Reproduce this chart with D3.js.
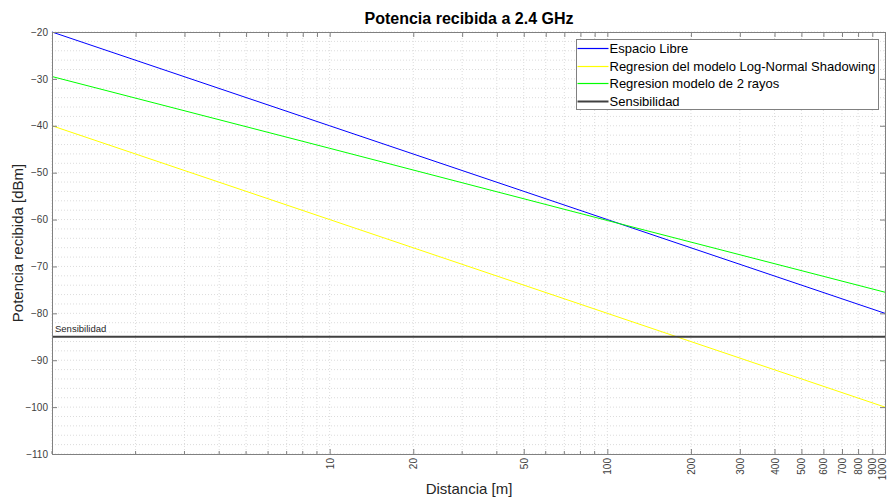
<!DOCTYPE html>
<html>
<head>
<meta charset="utf-8">
<script src="https://cdn.jsdelivr.net/npm/d3@7"></script>
<style>
  body { margin: 0; background: #fff; }
  text { font-family: "Liberation Sans", Arial, sans-serif; }
</style>
</head>
<body>
<div id="chart"></div>
<script>
// distances in metres and received power in dBm
let distancias = [1, 10, 100, 1000]
let espacioLibre = [-20, -40, -60, -80]
let logNormal = [-40, -60, -80, -100]
let dosRayos = [-29.5, -44.8, -60.2, -75.5]
let sensibilidad = [-85, -85, -85, -85]

let seriesNames = ["Espacio Libre", "Regresion del modelo Log-Normal Shadowing", "Regresion modelo de 2 rayos", "Sensibilidad"]
let xTickLabels = [10, 20, 50, 100, 200, 300, 400, 500, 600, 700, 800, 900, 1000]
let yTickLabels = [-110, -100, -90, -80, -70, -60, -50, -40, -30, -20]

var margin = {top: 32, right: 3, bottom: 46, left: 52},
    width = 888 - margin.left - margin.right,
    height = 500 - margin.top - margin.bottom;

var svg = d3.select("#chart")
  .append("svg")
    .attr("width", 888)
    .attr("height", 500)

var g = svg.append("g")
    .attr("transform", `translate(${margin.left}, ${margin.top})`);

var x = d3.scaleLog().domain([1, 1000]).range([0, width])
var y = d3.scaleLinear().domain([-110, -20]).range([height, 0])

// minor grid values
let xMinor = []
for (let dec of [1, 10, 100]) for (let k = 1; k < 10; k++) xMinor.push(dec * k)
xMinor.push(1000)
let yMinor = d3.range(-110, -19, 2)

g.selectAll(".vgrid")
  .data(xMinor)
  .join("line")
  .attr("x1", d => x(d)).attr("x2", d => x(d))
  .attr("y1", 0).attr("y2", height)
  .attr("stroke", "#dcdcdc")
  .attr("stroke-dasharray", "1,2")

g.selectAll(".hgrid")
  .data(yMinor)
  .join("line")
  .attr("x1", 0).attr("x2", width)
  .attr("y1", d => y(d)).attr("y2", d => y(d))
  .attr("stroke", "#dcdcdc")
  .attr("stroke-dasharray", "1,2")

// lines
let line = d3.line().x((d, i) => x(distancias[i])).y(d => y(d))
let colors = ["#0000ff", "#ffff00", "#00ff00", "#404040"]
let allSeries = [espacioLibre, logNormal, dosRayos, sensibilidad]

g.selectAll(".serie")
  .data(allSeries)
  .join("path")
  .attr("d", d => line(d))
  .attr("fill", "none")
  .attr("stroke", (d, i) => colors[i])
  .attr("stroke-width", (d, i) => i == 3 ? 2 : 1)

g.append("text")
  .attr("x", 3)
  .attr("y", y(sensibilidad[0]) - 5)
  .text("Sensibilidad")
  .style("font-size", "9.5px")
  .attr("fill", "#262626")

// axes, MATLAB style: inward ticks on all 4 sides
let axisColor = "#808080"
let tickLen = 5

let xAxis = g.append("g")
  .attr("transform", `translate(0, ${height})`)
  .call(d3.axisBottom(x).tickValues(xTickLabels).tickFormat(d3.format("d")).tickSizeInner(-tickLen).tickSizeOuter(0))
xAxis.selectAll("text")
  .attr("transform", "rotate(-90)")
  .attr("x", -4).attr("y", d => d == 1000 ? -3 : 0).attr("dy", "0.35em")
  .style("text-anchor", "end")
  .style("font-size", "10px")
  .attr("fill", "#404040")

// minor ticks on bottom
g.selectAll(".xminortick")
  .data(xMinor.filter(d => !xTickLabels.includes(d)))
  .join("line")
  .attr("x1", d => x(d)).attr("x2", d => x(d))
  .attr("y1", height).attr("y2", height - 3)
  .attr("stroke", axisColor)

let xAxisTop = g.append("g")
  .call(d3.axisTop(x).tickValues(xMinor).tickFormat("").tickSizeInner(-tickLen).tickSizeOuter(0))

let yAxis = g.append("g")
  .call(d3.axisLeft(y).tickValues(yTickLabels).tickSizeInner(-tickLen).tickSizeOuter(0))
yAxis.selectAll("text")
  .attr("x", -4)
  .style("font-size", "10px")
  .attr("fill", "#404040")

let yAxisRight = g.append("g")
  .attr("transform", `translate(${width}, 0)`)
  .call(d3.axisRight(y).tickValues(yTickLabels).tickFormat("").tickSizeInner(-tickLen).tickSizeOuter(0))

for (let ax of [xAxis, xAxisTop, yAxis, yAxisRight]) {
  ax.select(".domain").attr("stroke", axisColor)
  ax.selectAll(".tick line").attr("stroke", axisColor)
}

// title and labels
svg.append("text")
  .attr("x", 469).attr("y", 24)
  .attr("text-anchor", "middle")
  .style("font-size", "16px")
  .style("font-weight", "bold")
  .attr("fill", "#000")
  .text("Potencia recibida a 2.4 GHz")

svg.append("text")
  .attr("x", 469).attr("y", 494)
  .attr("text-anchor", "middle")
  .style("font-size", "15px")
  .attr("fill", "#262626")
  .text("Distancia [m]")

svg.append("text")
  .attr("transform", `translate(23, ${margin.top + height / 2}) rotate(-90)`)
  .attr("text-anchor", "middle")
  .style("font-size", "15px")
  .attr("fill", "#262626")
  .text("Potencia recibida [dBm]")

// legend
let legend = svg.append("g").attr("transform", "translate(576.5, 39.5)")
legend.append("rect")
  .attr("width", 302).attr("height", 70)
  .attr("fill", "#fff")
  .attr("stroke", "#808080")

legend.selectAll(".item")
  .data(seriesNames)
  .join("g")
  .attr("transform", (d, i) => `translate(0, ${Math.round(9 + i * 17.5)})`)
  .each(function(d, i) {
    let it = d3.select(this)
    it.append("line")
      .attr("x1", 1).attr("x2", 32)
      .attr("stroke", colors[i])
      .attr("stroke-width", i == 3 ? 2 : 1.2)
    it.append("text")
      .attr("x", 33).attr("dy", "0.35em")
      .style("font-size", "13px")
      .attr("fill", "#000")
      .text(d)
  })
</script>
</body>
</html>
